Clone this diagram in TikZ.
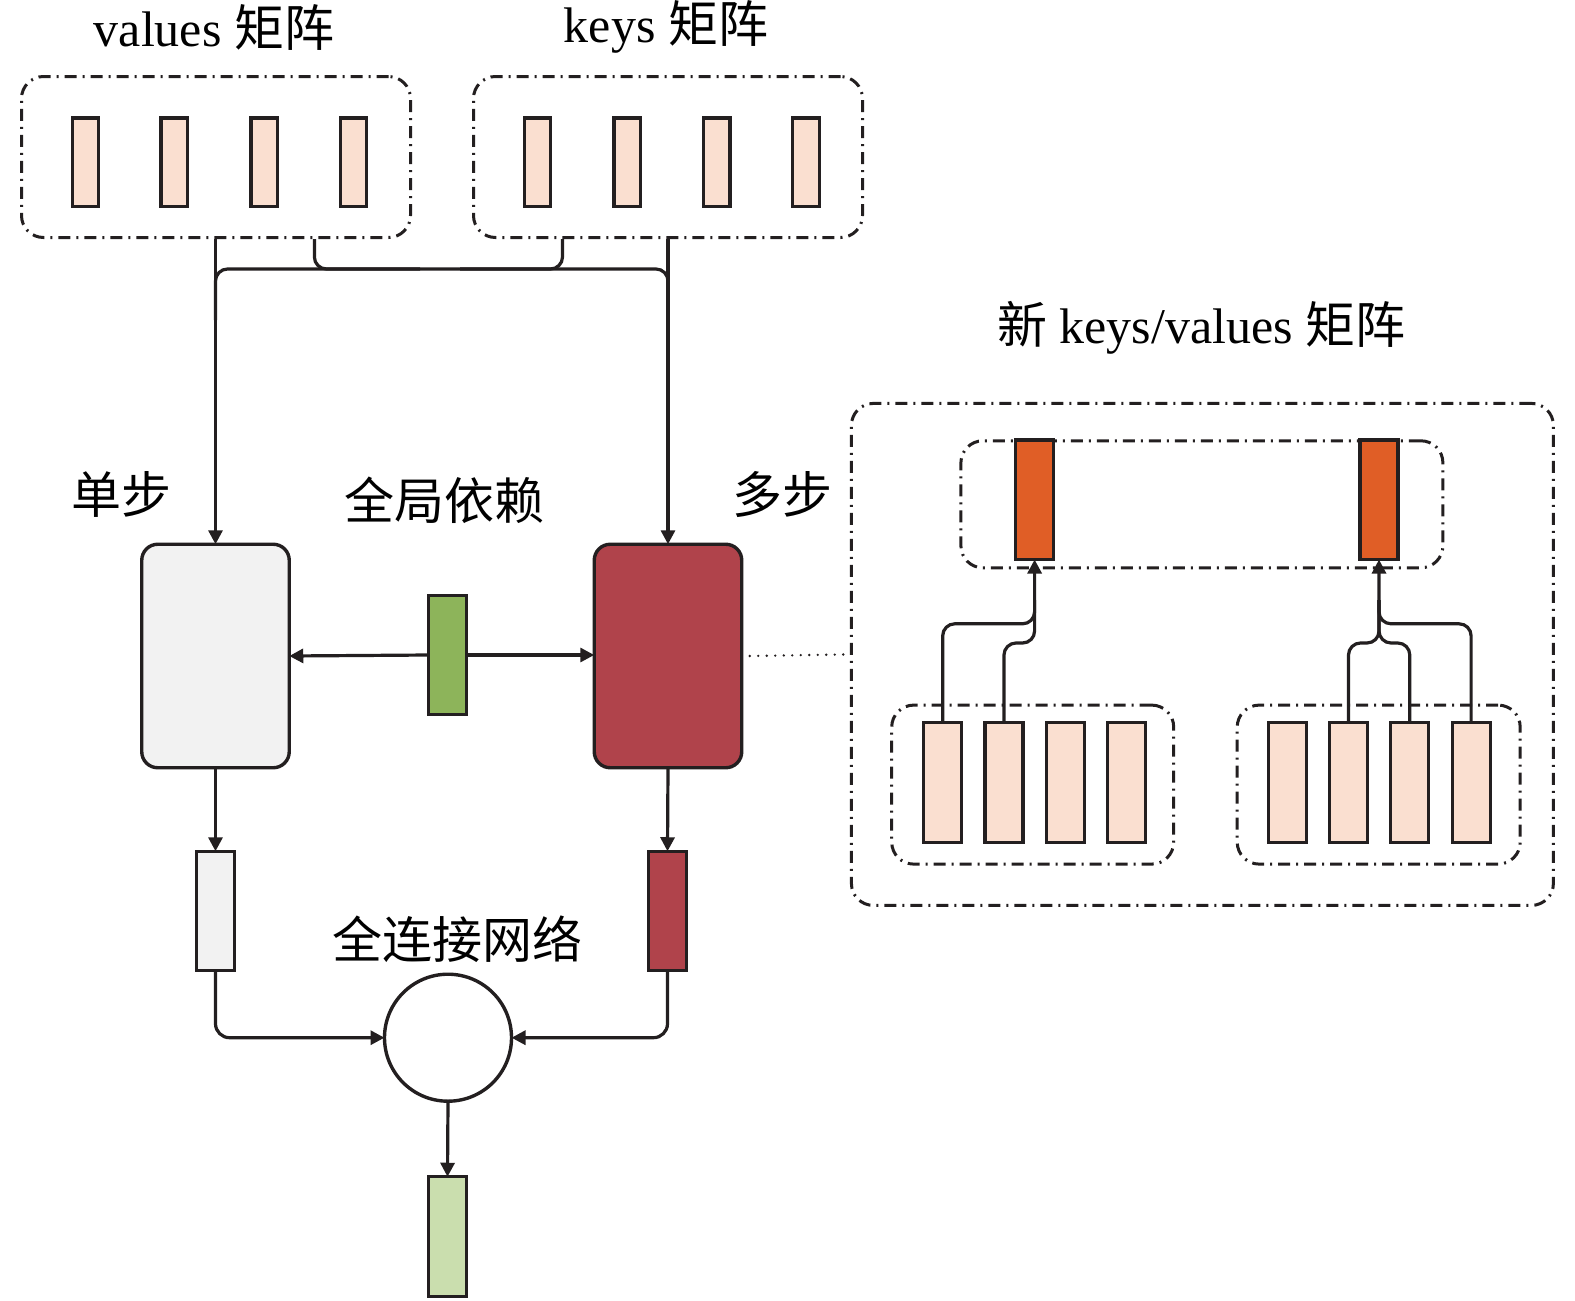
\documentclass[tikz,border=0pt]{standalone}
\usepackage{fontspec}
\setmainfont{Liberation Serif}
\newfontfamily\cjk{Noto Sans CJK SC}
\usetikzlibrary{arrows.meta}
\definecolor{ink}{HTML}{231F20}
\definecolor{peach}{HTML}{FADFD0}
\definecolor{greyfill}{HTML}{F2F2F2}
\definecolor{wine}{HTML}{B0434B}
\definecolor{leaf}{HTML}{8DB45A}
\definecolor{paleleaf}{HTML}{CADEAE}
\definecolor{rust}{HTML}{E05E26}
\begin{document}
\begin{tikzpicture}[x=1pt,y=-1pt,
  lbl/.style={font=\fontsize{50}{58}\selectfont, inner sep=0pt},
  cell/.style={draw=ink, line width=3.2pt, inner sep=0pt, outer sep=0pt, minimum width=26.5pt, minimum height=88.5pt, fill=peach},
  bar/.style={draw=ink, line width=3.2pt, inner sep=0pt, outer sep=0pt, minimum width=38pt, minimum height=119.5pt},
  blockbox/.style={draw=ink, line width=3.4pt, rounded corners=16pt, inner sep=0pt, outer sep=0pt, minimum width=147.5pt, minimum height=223.5pt},
  dashbox/.style={draw=ink, line width=3pt, dash pattern=on 12pt off 6pt on 2pt off 6pt, rounded corners=22pt, inner sep=0pt, outer sep=0pt},
  conn/.style={draw=ink, line width=3.2pt},
  arr/.style={conn, -{Triangle[length=14pt,width=14pt]}},
]
\useasboundingbox (0,0) rectangle (1575,1301);

% titles
\node[lbl] (tv) at (214,27) {values \cjk 矩阵};
\node[lbl] (tk) at (666,27) {keys \cjk 矩阵};
\node[lbl] (ts) at (121.5,494) {\cjk 单步};
\node[lbl] (tg) at (444,500) {\cjk 全局依赖};
\node[lbl] (tm) at (782.5,494) {\cjk 多步};
\node[lbl] (tf) at (457,939) {\cjk 全连接网络};
\node[lbl] (tn) at (1201.4,327.5) {\cjk 新\rm{} keys/values \cjk 矩阵};

% values / keys boxes
\node[dashbox, minimum width=389pt, minimum height=161pt] (vbox) at (216,157) {};
\node[dashbox, minimum width=389pt, minimum height=161pt] (kbox) at (668,157) {};
\foreach \x [count=\i] in {85.4,174.3,264.2,353.6} \node[cell] (v\i) at (\x,162.3) {};
\foreach \x [count=\i] in {537.4,627.3,716.7,806.1} \node[cell] (k\i) at (\x,162.3) {};

% main blocks
\node[blockbox, fill=greyfill] (sb) at (215.5,656) {};
\node[blockbox, fill=wine] (mb) at (668,656) {};
\node[bar, fill=leaf] (gb) at (447.5,655) {};
\node[bar, fill=greyfill] (so) at (215.5,911) {};
\node[bar, fill=wine] (mo) at (667.5,911) {};
\node[draw=ink, line width=3.4pt, circle, minimum size=127pt, inner sep=0pt, outer sep=0pt] (fc) at (448,1037.7) {};
\node[bar, fill=paleleaf] (out) at (447.5,1236.5) {};

% top connectors
\coordinate (va) at (215.5,239);
\coordinate (vb) at (314.4,239);
\coordinate (ka) at (562.5,239);
\coordinate (kb) at (668,239);
\draw[arr] (va) -- (sb.north);
\draw[arr] (kb) -- (mb.north);
\draw[conn, rounded corners=12pt] (vb) -- (314.4,269) -- (420,269);
\draw[conn, rounded corners=12pt] (ka) -- (562.5,269) -- (460,269);
\draw[conn, rounded corners=12pt] (215.5,320) -- (215.5,269) -- (668,269) -- (668,320);

% middle connectors
\draw[arr] (gb.west) -- (sb.east);
\draw[arr] (gb.east) -- (gb.east -| mb.west);
\draw[arr] (sb.south) -- (so.north);
\draw[arr] (mb.south) -- (mo.north);
\draw[arr, rounded corners=14pt] (so.south) |- (fc.west);
\draw[arr, rounded corners=14pt] (mo.south) |- (fc.east);
\draw[arr] (fc.south) -- (out.north);

% right panel
\node[dashbox, minimum width=702pt, minimum height=502pt] (big) at (1202.4,654.4) {};
\draw[ink, line width=2.6pt, line cap=round, dash pattern=on 0pt off 8.5pt] ([xshift=8pt]mb.east) -- ([xshift=-4pt]big.west);
\node[dashbox, minimum width=482pt, minimum height=127pt] (topb) at (1201.9,504.3) {};
\node[dashbox, minimum width=282pt, minimum height=159pt] (llb) at (1032.7,784.6) {};
\node[dashbox, minimum width=283pt, minimum height=159pt] (lrb) at (1378.7,784.6) {};
\node[bar, fill=rust] (o1) at (1034.6,499.8) {};
\node[bar, fill=rust] (o2) at (1379,499.8) {};
\foreach \x [count=\i] in {942.7,1004,1065.3,1126.5} \node[bar, fill=peach] (a\i) at (\x,782.5) {};
\foreach \x [count=\i] in {1287.8,1348.5,1409.8,1471.1} \node[bar, fill=peach] (b\i) at (\x,782.5) {};

\draw[arr, rounded corners=12pt] (a1.north) -- (942.7,623.8) -- (1034.6,623.8) -- (o1.south);
\draw[conn, rounded corners=12pt] (a2.north) -- (1004,643) -- (1034.6,643) -- (1034.6,600);
\draw[arr, rounded corners=12pt] (b4.north) -- (1471.1,623.8) -- (1379,623.8) -- (o2.south);
\draw[conn, rounded corners=12pt] (b2.north) -- (1348.5,643) -- (1379,643) -- (1379,600);
\draw[conn, rounded corners=12pt] (b3.north) -- (1409.8,643) -- (1379,643) -- (1379,600);
\end{tikzpicture}
\end{document}
